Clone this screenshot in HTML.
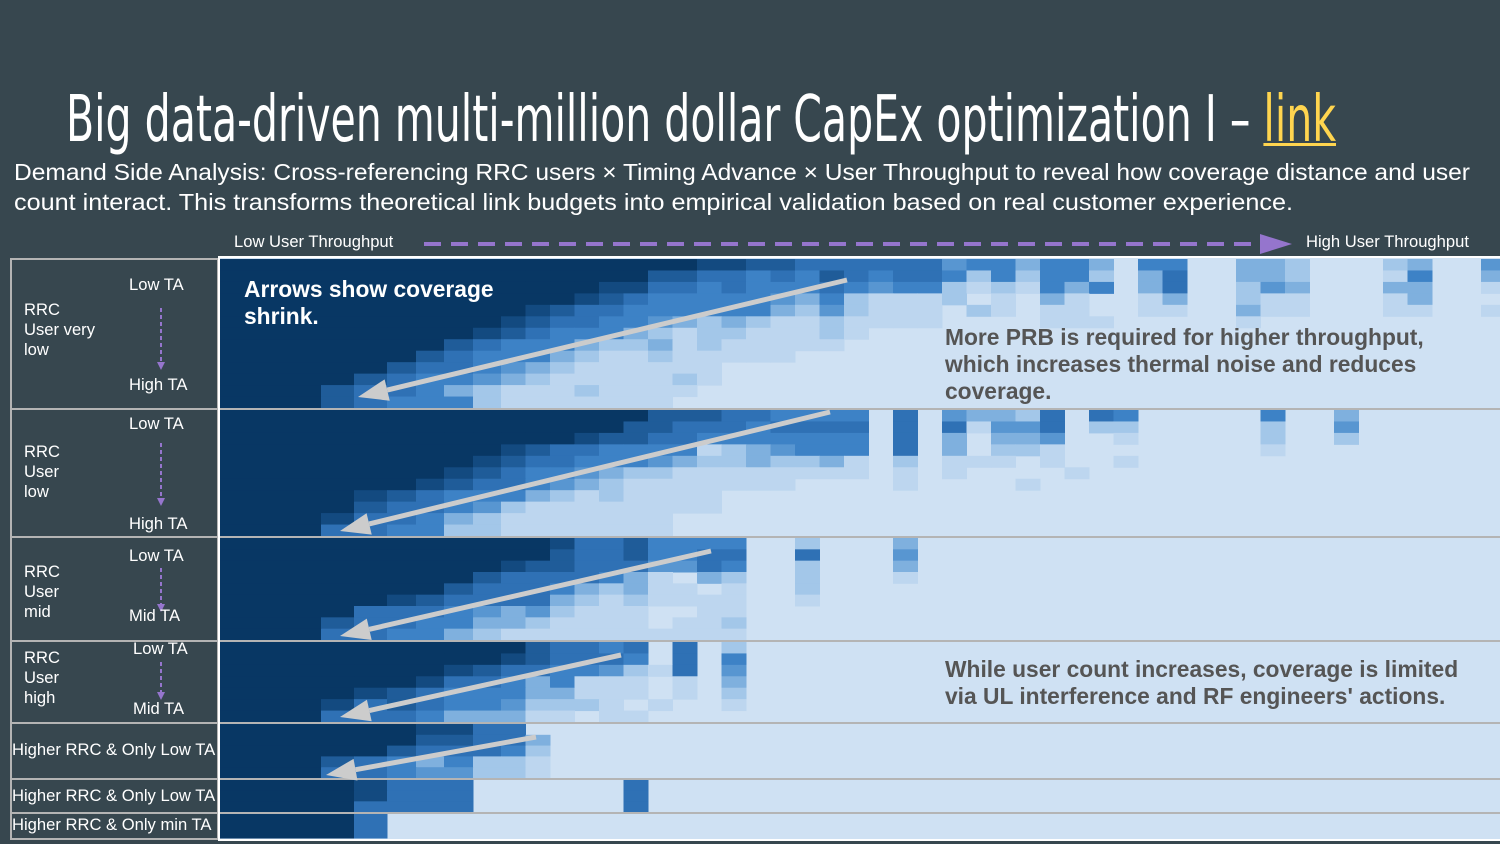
<!DOCTYPE html>
<html><head><meta charset="utf-8">
<style>
html,body{margin:0;padding:0;}
body{width:1500px;height:844px;background:#37474f;position:relative;overflow:hidden;font-family:"Liberation Sans",sans-serif;color:#fff;}
.abs{position:absolute;white-space:nowrap;}
#title{left:66px;top:84px;font-family:"Liberation Sans Narrow","DejaVu Sans Condensed","Liberation Sans",sans-serif;font-size:64px;line-height:72px;transform-origin:0 0;}
#title a{color:#ffd54f;text-decoration:underline;text-decoration-thickness:3px;}
.sub{left:14px;font-size:23px;line-height:28px;transform-origin:0 0;}
.lbl{font-size:16.6px;line-height:20px;}
.big{font-weight:bold;font-size:22.8px;line-height:27px;}
</style></head>
<body>
<div id="title" class="abs">Big data-driven multi-million dollar CapEx optimization I – <a>link</a></div>
<div id="sub1" class="abs sub" style="top:158px">Demand Side Analysis: Cross-referencing RRC users × Timing Advance × User Throughput to reveal how coverage distance and user</div>
<div id="sub2" class="abs sub" style="top:188px">count interact. This transforms theoretical link budgets into empirical validation based on real customer experience.</div>
<div class="abs lbl" style="left:234px;top:232px">Low User Throughput</div>
<div class="abs lbl" style="left:1306px;top:232px">High User Throughput</div>

<svg id="chart" width="1500" height="844" style="position:absolute;left:0;top:0"></svg>

<div class="abs lbl" style="left:24px;top:300px">RRC<br>User very<br>low</div>
<div class="abs lbl" style="left:129px;top:275px">Low TA</div>
<div class="abs lbl" style="left:129px;top:375px">High TA</div>
<div class="abs lbl" style="left:24px;top:442px">RRC<br>User<br>low</div>
<div class="abs lbl" style="left:129px;top:414px">Low TA</div>
<div class="abs lbl" style="left:129px;top:514px">High TA</div>
<div class="abs lbl" style="left:24px;top:562px">RRC<br>User<br>mid</div>
<div class="abs lbl" style="left:129px;top:546px">Low TA</div>
<div class="abs lbl" style="left:129px;top:606px">Mid TA</div>
<div class="abs lbl" style="left:24px;top:648px">RRC<br>User<br>high</div>
<div class="abs lbl" style="left:133px;top:639px">Low TA</div>
<div class="abs lbl" style="left:133px;top:699px">Mid TA</div>
<div class="abs lbl" style="left:12px;top:740px">Higher RRC &amp; Only Low TA</div>
<div class="abs lbl" style="left:12px;top:786px">Higher RRC &amp; Only Low TA</div>
<div class="abs lbl" style="left:12px;top:815px">Higher RRC &amp; Only min TA</div>

<div class="abs big" style="left:244px;top:276px;color:#fff">Arrows show coverage<br>shrink.</div>
<div class="abs big" style="left:945px;top:324px;color:#555">More PRB is required for higher throughput,<br>which increases thermal noise and reduces<br>coverage.</div>
<div class="abs big" style="left:945px;top:656px;color:#555">While user count increases, coverage is limited<br>via UL interference and RF engineers' actions.</div>

<script>
// Heatmap data: each band = rows (top TA -> bottom TA), chars = intensity level per throughput bin (0 dark .. 9 light)
const nCols = 48;
const levelColors = ["#083764","#134a80","#1f5c99","#2f71b5","#3d82c6","#5896d1","#7fb0de","#a3c7e9","#bdd6ef","#cfe1f3"];
const band1Rows = [
"0000000000000001122333333544644694499667999769955",
"000000000000022334342343347474479639966799984996",
"000000000001133434443454478784649639975699966998",
"000000000012344444564788879896899869978899986999",
"000000001233444444675788897898899889968899988998",
"000000012334456767887888899998889999989999999999",
"0000001234446787788878",
"000002344467768788888",
"0000234446788788888",
"0002334567888888",
"0023445678888878",
"023346788878888",
"02344478888888"];
const band2Rows = [
"0000000000000222334444939566739349999949 96",
"0000000000002233343333939385539779999979 95",
"0000000000122334444444939696659989999979 97",
"00000001233444487654449396977899999999 8",
"000000123344456776776897988898998",
"0000012344567788888888989899998",
"00001233456788888889999899998",
"0012344467878888",
"0023345788888888",
"01334678888888",
"03344778888888"];
const band3Rows = [
"000000000133244449979996",
"000000000233244339939995",
"000000012233355349979996",
"000000233334689679979998",
"00000233346768898997",
"00012333367878888998",
"00333456578889988",
"02334466788889887",
"03344678888888888"];
const band4Rows = [
"00000000233439397",
"00000001233349394",
"00000123344578395",
"00001334648889896",
"00123444668889897",
"01323445777898998",
"03334666889889"];
const band5Rows = ["00001133","000022336","000233347","023464778","033455778"];
const band6Rows = ["0013339999993","0013339999993","0033339999993"];
const band7Rows = ["003","003"];
const bands = [band1Rows,band2Rows,band3Rows,band4Rows,band5Rows,band6Rows,band7Rows];
const bandTops = [259,410,538,642,724,780,814];
const bandBottoms = [408,536,640,722,778,812,838];
const arrowTails = [[847,280],[830,412],[711,551],[621,655],[536,737]];
const arrowHeads = [[358,397],[340,531],[340,636],[340,717],[326,775]];

const NS="http://www.w3.org/2000/svg";
const svg=document.getElementById('chart');
function mk(t,a){const e=document.createElementNS(NS,t);for(const k in a)e.setAttribute(k,a[k]);svg.appendChild(e);return e;}
const firstW=[33,33,33,29,28,29,28];
function colX(k){if(k<=0)return 218;let x=288;if(k<7){for(let i=0;i<k;i++)x+=firstW[i];return x;}return 501+24.5*(k-7);}
function rowY(b,r){const n=bands[b].length;return bandTops[b]+(bandBottoms[b]-bandTops[b])*r/n;}

const bg=mk('rect',{x:218,y:257,width:1282,height:583,fill:levelColors[9]});


bands.forEach((rows,b)=>{
  rows.forEach((str,r)=>{
    const s=str.replace(/ /g,'');
    for(let k=0;k<nCols;k++){
      const ch=k<s.length?s[k]:'9';
      const lv=parseInt(ch,10);
      if(isNaN(lv)||lv===9)continue;
      const x0=colX(k),x1=k+1<nCols?colX(k+1):1500;
      const y0=rowY(b,r),y1=rowY(b,r+1);
      const c=mk('rect',{x:x0,y:y0,width:x1-x0+0.5,height:y1-y0+0.5,fill:levelColors[lv]});
      
      
    }
  });
});
for(let b=0;b<bands.length-1;b++){
  const y=(bandBottoms[b]+bandTops[b+1])/2;
  const l=mk('line',{x1:10,x2:1500,y1:y,y2:y,stroke:'#b4b4b4','stroke-width':2});
  
  
}
const tb=mk('rect',{x:11,y:259,width:207,height:580,fill:'none',stroke:'#b4b4b4','stroke-width':2});


const wl=mk('path',{d:'M1500 257 H219 V840 H1500',fill:'none',stroke:'#ffffff','stroke-width':2});


const da=mk('line',{x1:424,x2:1262,y1:244,y2:244,stroke:'#9575cd','stroke-width':4,'stroke-dasharray':'17 10'});


const dh=mk('polygon',{points:'1260,234 1292,244 1260,254',fill:'#9575cd'});


[[308,362],[443,498],[568,604],[662,692]].forEach(([a,bb])=>{
  const v=mk('line',{x1:161,x2:161,y1:a,y2:bb,stroke:'#9575cd','stroke-width':2,'stroke-dasharray':'4 3'});
  
  
  const h=mk('polygon',{points:`157,${bb} 165,${bb} 161,${bb+8}`,fill:'#9575cd'});
  
  
});
arrowTails.forEach((t,i)=>{
  const h=arrowHeads[i];
  const dx=h[0]-t[0],dy=h[1]-t[1],L=Math.hypot(dx,dy),ux=dx/L,uy=dy/L;
  const bx=h[0]-ux*30,by=h[1]-uy*30;
  const ln=mk('line',{x1:t[0],y1:t[1],x2:bx,y2:by,stroke:'#cccccc','stroke-width':5});
  
  
  const p=mk('polygon',{points:`${h[0]},${h[1]} ${bx-uy*11},${by+ux*11} ${bx+uy*11},${by-ux*11}`,fill:'#cccccc'});
  
  
});
function fit(id,w){const e=document.getElementById(id);const r=e.getBoundingClientRect().width;if(r>0)e.style.transform=`scaleX(${w/r})`;}
fit('title',1270);fit('sub1',1456);fit('sub2',1279);
</script>
</body></html>
